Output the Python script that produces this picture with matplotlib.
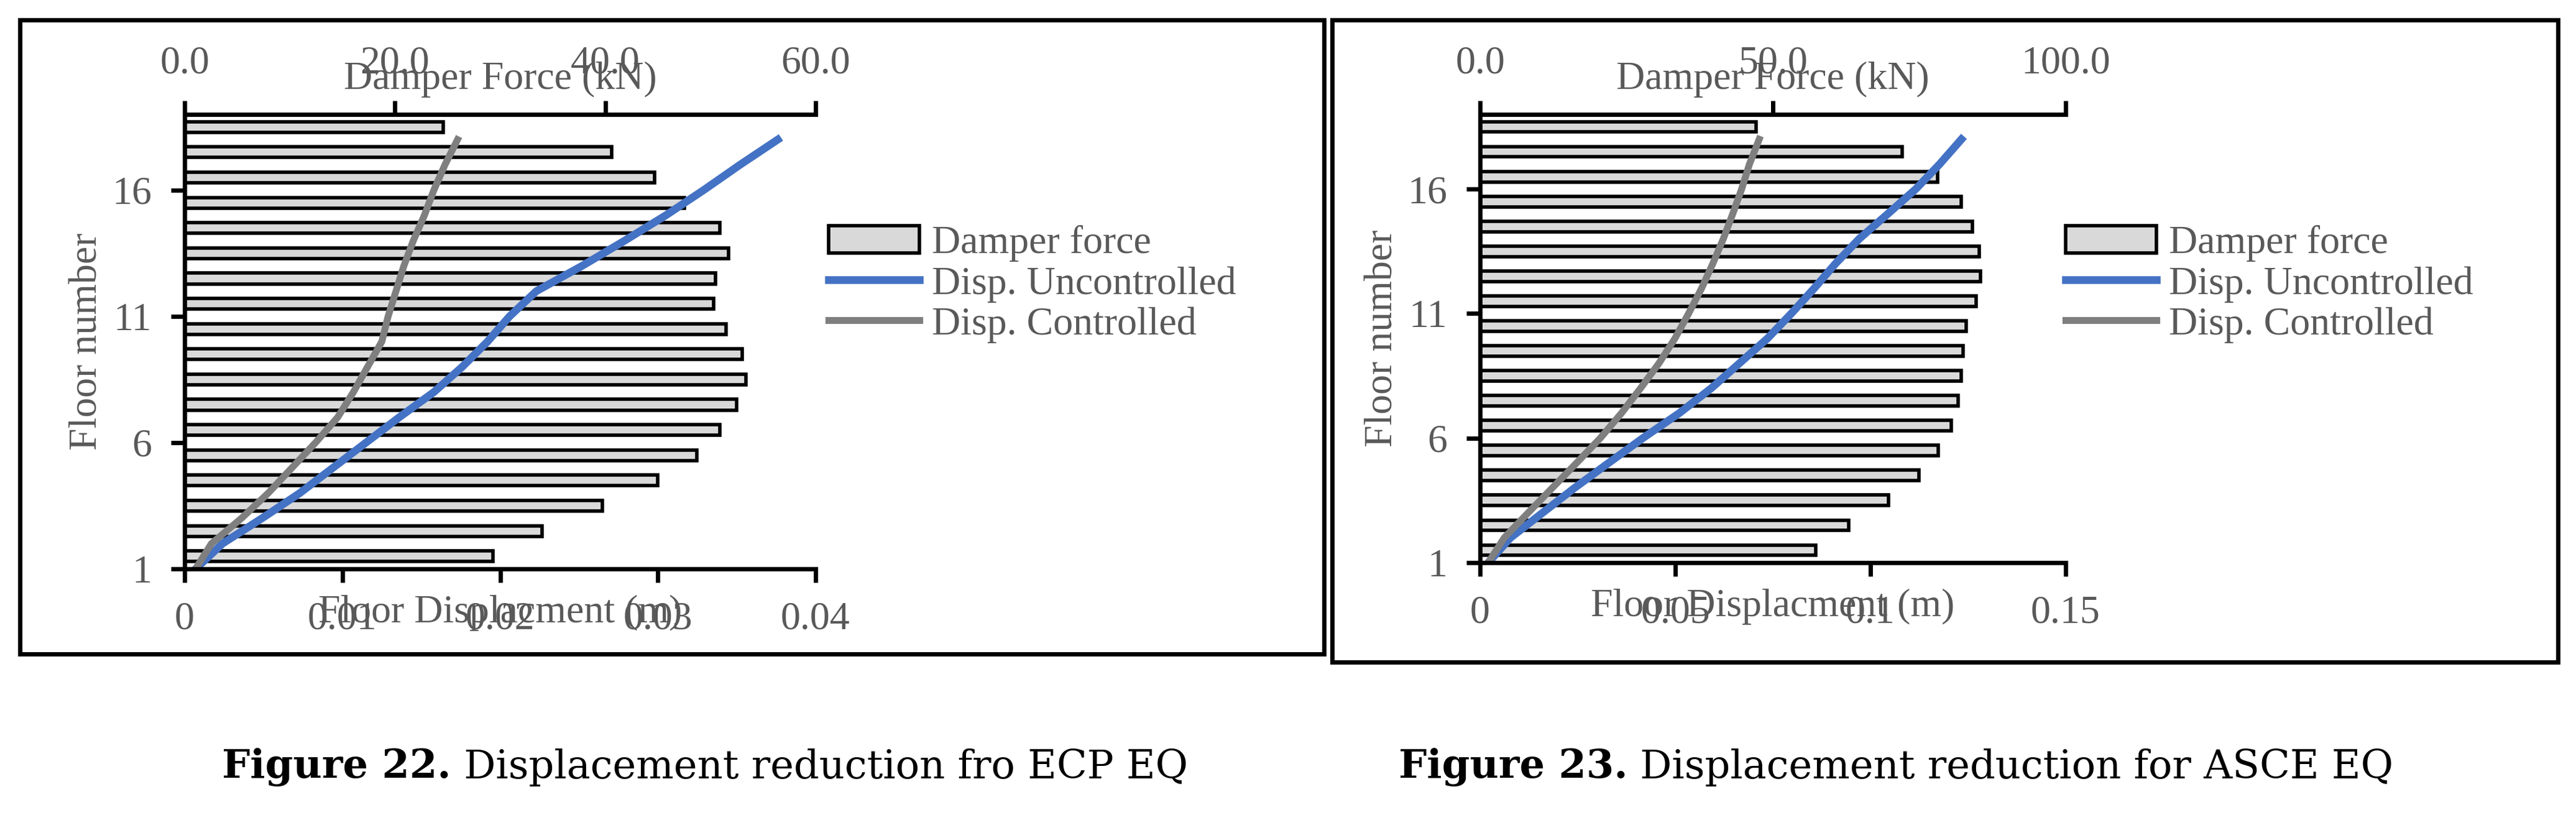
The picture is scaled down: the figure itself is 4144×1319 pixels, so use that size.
import matplotlib.pyplot as plt
from matplotlib.patches import Rectangle

plt.rcParams['font.family'] = ['Liberation Serif', 'DejaVu Serif']

floors = list(range(1, 19))

# Figure 22 - ECP EQ
force_ecp = [29.3, 34.0, 39.7, 45.0, 48.7, 50.9, 52.5, 53.4, 53.0,
             51.5, 50.3, 50.5, 51.7, 50.9, 47.5, 44.7, 40.6, 24.6]
unc_ecp = [0.0007, 0.0024, 0.0049, 0.0073, 0.0094, 0.0115, 0.0136, 0.0158, 0.0176,
           0.0192, 0.0206, 0.0223, 0.0252, 0.0279, 0.0305, 0.0329, 0.0352, 0.0376]
con_ecp = [0.0007, 0.0017, 0.0036, 0.0053, 0.0068, 0.0083, 0.0097, 0.0107, 0.0116,
           0.0125, 0.0129, 0.0134, 0.0139, 0.0145, 0.0152, 0.0158, 0.0165, 0.0173]

# Figure 23 - ASCE EQ
force_asce = [57.3, 63.0, 69.7, 74.9, 78.2, 80.5, 81.6, 82.2, 82.5,
              83.0, 84.7, 85.5, 85.2, 84.1, 82.2, 78.1, 72.1, 47.1]
unc_asce = [0.0021, 0.0078, 0.016, 0.0242, 0.0329, 0.0417, 0.051, 0.0592, 0.0664,
            0.0736, 0.0797, 0.0855, 0.091, 0.0971, 0.1044, 0.1116, 0.1177, 0.1233]
con_asce = [0.0021, 0.0062, 0.0123, 0.0185, 0.0247, 0.0308, 0.0362, 0.0411, 0.0458,
            0.0499, 0.0534, 0.0567, 0.0596, 0.0623, 0.0647, 0.067, 0.069, 0.0715]

W, H = 4144, 1319
gray = '#595959'
fs = 46

fig = plt.figure(figsize=(W / 100, H / 100), dpi=100)


def panel(rect, force, unc, con, xmax, xticks, xlabels, fmax, fticks, legpos):
    ax = fig.add_axes(rect)
    ax.set_xlim(0, xmax)
    ax.set_ylim(1, 19)
    ax.set_xticks(xticks)
    ax.set_xticklabels(xlabels)
    ax.set_yticks([1, 6, 11, 16])
    axf = ax.twiny()
    axf.set_xlim(0, fmax)
    axf.set_xticks(fticks)
    axf.set_xticklabels(['%.1f' % t for t in fticks])
    bars = axf.barh([f + 0.5 for f in floors], force, height=0.42,
                    color='#d9d9d9', edgecolor='black', linewidth=4,
                    label='Damper force')
    l1, = ax.plot(unc, floors, color='#4472c4', lw=9, label='Disp. Uncontrolled')
    l2, = ax.plot(con, floors, color='#7f7f7f', lw=8, label='Disp. Controlled')
    ax.set_zorder(axf.get_zorder() + 1)
    ax.patch.set_visible(False)
    for a in (ax, axf):
        for s in a.spines.values():
            s.set_linewidth(5)
        a.spines['right'].set_visible(False)
        a.tick_params(labelsize=fs, labelcolor=gray, width=5, length=16,
                      direction='out', pad=22)
    ax.spines['top'].set_visible(False)
    ax.set_xlabel('Floor Displacment (m)', fontsize=fs, color=gray, labelpad=-50)
    ax.set_ylabel('Floor number', fontsize=fs, color=gray, labelpad=8)
    axf.set_xlabel('Damper Force (kN)', fontsize=fs, color=gray, labelpad=-50)
    fig.legend([bars, l1, l2], ['Damper force', 'Disp. Uncontrolled', 'Disp. Controlled'],
               loc='upper left', bbox_to_anchor=legpos, frameon=False,
               fontsize=fs, labelcolor=gray, handlelength=2.3,
               labelspacing=0.1, handletextpad=0.3)


def fx(px):
    return px / W


def fy(py):
    return 1 - py / H


panel([fx(297), fy(915), fx(1312 - 297), (915 - 184) / H], force_ecp, unc_ecp, con_ecp,
      0.04, [0, 0.01, 0.02, 0.03, 0.04], ['0', '0.01', '0.02', '0.03', '0.04'],
      60, [0, 20, 40, 60], (fx(1275), fy(305)))
panel([fx(2381), fy(905), fx(3323 - 2381), (905 - 184) / H], force_asce, unc_asce, con_asce,
      0.15, [0, 0.05, 0.1, 0.15], ['0', '0.05', '0.1', '0.15'],
      100, [0, 50, 100], (fx(3265), fy(305)))

fig.patches.append(Rectangle((fx(32), fy(1052)), fx(2130 - 32), (1052 - 32) / H,
                             transform=fig.transFigure, fill=False, lw=5, ec='black'))
fig.patches.append(Rectangle((fx(2143), fy(1065)), fx(4115 - 2143), (1065 - 32) / H,
                             transform=fig.transFigure, fill=False, lw=5, ec='black'))

for cx, num, txt in [(1118, 'Figure 22.', ' Displacement reduction fro ECP EQ'),
                     (3034, 'Figure 23.', ' Displacement reduction for ASCE EQ')]:
    t = fig.text(fx(cx), fy(1234), num + txt, fontsize=46, ha='center', va='center',
                 family=['DejaVu Serif'], alpha=0)
    fig.canvas.draw()
    bb = t.get_window_extent()
    t.remove()
    t1 = fig.text(bb.x0 / W, fy(1234), num, fontsize=46, fontweight='bold',
                  ha='left', va='center', family=['DejaVu Serif'])
    bb1 = t1.get_window_extent(renderer=fig.canvas.get_renderer())
    fig.text(bb1.x1 / W, fy(1234), txt, fontsize=46, ha='left', va='center',
             family=['DejaVu Serif'])

fig.savefig('out.png', dpi=100)
